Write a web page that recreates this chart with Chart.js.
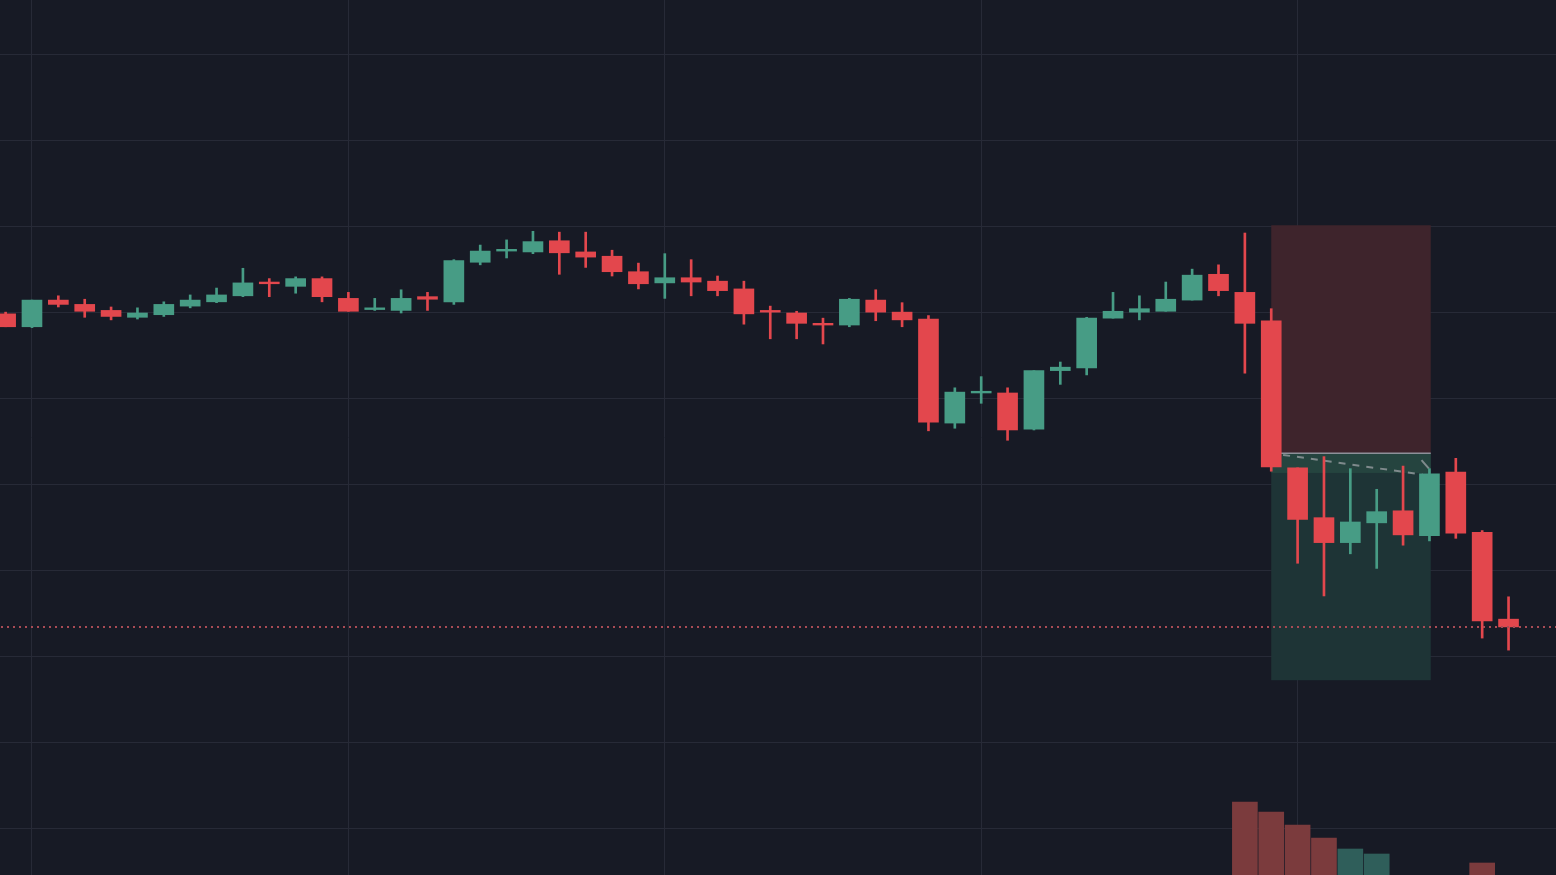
<!DOCTYPE html>
<html>
<head>
<meta charset="utf-8">
<script src="https://cdn.jsdelivr.net/npm/chart.js@4.4.1/dist/chart.umd.min.js"></script>
<style>
  html, body { margin: 0; padding: 0; background: #171a25; overflow: hidden; }
  #wrap { width: 1556px; height: 875px; }
</style>
</head>
<body>
<div id="wrap"><canvas id="chart"></canvas></div>
<script>
// bougies (OHLC)
const opens  = [99.99, 99.84, 100.15, 100.10, 100.03, 99.95, 99.98, 100.08, 100.13, 100.20,
                100.36, 100.31, 100.40, 100.17, 100.04, 100.03, 100.19, 100.13, 100.59, 100.72,
                100.71, 100.84, 100.71, 100.66, 100.48, 100.35, 100.41, 100.37, 100.28, 100.03,
                100.00, 99.88, 99.86, 100.15, 100.01, 99.93, 98.72, 99.07, 99.07, 98.65,
                99.33, 99.36, 99.94, 100.01, 100.02, 100.15, 100.45, 100.24, 99.91, 98.20,
                97.62, 97.33, 97.56, 97.70, 97.41, 98.15, 97.45, 96.44];
const highs  = [100.01, 100.15, 100.20, 100.16, 100.07, 100.06, 100.13, 100.21, 100.29, 100.52,
                100.40, 100.42, 100.42, 100.24, 100.17, 100.27, 100.24, 100.62, 100.79, 100.85,
                100.95, 100.94, 100.94, 100.73, 100.58, 100.69, 100.62, 100.43, 100.37, 100.08,
                100.02, 99.94, 100.17, 100.27, 100.12, 99.97, 99.13, 99.26, 99.13, 99.33,
                99.43, 99.95, 100.24, 100.20, 100.36, 100.51, 100.56, 100.93, 100.05, 98.20,
                98.33, 98.19, 97.95, 98.22, 98.19, 98.31, 97.47, 96.70];
const lows   = [99.84, 99.83, 100.07, 99.95, 99.92, 99.93, 99.96, 100.06, 100.12, 100.19,
                100.19, 100.23, 100.13, 100.02, 100.03, 100.00, 100.03, 100.10, 100.56, 100.64,
                100.69, 100.45, 100.53, 100.43, 100.28, 100.17, 100.20, 100.20, 99.87, 99.70,
                99.70, 99.64, 99.84, 99.91, 99.84, 98.63, 98.66, 98.95, 98.52, 98.64,
                99.17, 99.28, 99.94, 99.92, 100.02, 100.15, 100.20, 99.30, 98.16, 97.09,
                96.71, 97.20, 97.03, 97.30, 97.35, 97.38, 96.22, 96.08];
const closes = [99.84, 100.15, 100.10, 100.02, 99.96, 100.00, 100.10, 100.15, 100.21, 100.35,
                100.34, 100.40, 100.19, 100.02, 100.06, 100.17, 100.16, 100.61, 100.72, 100.74,
                100.83, 100.70, 100.65, 100.48, 100.34, 100.41, 100.36, 100.26, 99.99, 100.01,
                99.88, 99.86, 100.16, 100.01, 99.92, 98.73, 99.08, 99.09, 98.64, 99.33,
                99.37, 99.94, 100.02, 100.05, 100.16, 100.44, 100.26, 99.88, 98.21, 97.60,
                97.33, 97.57, 97.69, 97.42, 98.13, 97.44, 96.42, 96.35];

// volumes (seulement les barres visibles)
const volIndex = [47, 48, 49, 50, 51, 52, 56];
const volumes  = [7300, 6300, 5000, 3700, 2600, 2100, 1200];

// grilles
const timeTicks  = [1, 13, 25, 37, 49];
const priceTicks = [94, 95, 96, 97, 98, 99, 100, 101, 102, 103];

// outil position + dernier prix
const lastPrice  = 96.35;
const posStart   = 48;
const posEnd     = 54.05;
const posStop    = 101.02;
const posEntry   = 98.37;
const posTarget  = 95.73;
const posExit    = 98.14;

const UP = '#479c85', DOWN = '#e3474d';
const VOL_UP = '#2f5e5a', VOL_DOWN = '#7b3b3d';
const candleColor = opens.map((o, i) => closes[i] >= o ? UP : DOWN);

const bodies = opens.map((o, i) => ({ x: i, y: [o, closes[i]] }));
const wicks  = opens.map((o, i) => ({ x: i, y: [lows[i], highs[i]] }));
const vols   = volIndex.map((idx, k) => ({ x: idx, y: volumes[k] }));
const volColors = volIndex.map(idx => closes[idx] >= opens[idx] ? VOL_UP : VOL_DOWN);

// zones de l'outil position, prix dernier, ligne pointillée
const overlay = {
  id: 'overlay',
  beforeDatasetsDraw(chart) {
    const { ctx, scales: { x, y } } = chart;
    const x0 = x.getPixelForValue(posStart), x1 = x.getPixelForValue(posEnd);
    const yStop = y.getPixelForValue(posStop);
    const yEntry = y.getPixelForValue(posEntry);
    const yTarget = y.getPixelForValue(posTarget);
    const yExit = y.getPixelForValue(posExit);
    ctx.save();
    ctx.fillStyle = '#3e242c';
    ctx.fillRect(x0, yStop, x1 - x0, yEntry - yStop);
    ctx.fillStyle = '#1e3436';
    ctx.fillRect(x0, yEntry, x1 - x0, yTarget - yEntry);
    ctx.fillStyle = '#25443f';
    ctx.fillRect(x0, yEntry, x1 - x0, yExit - yEntry);
    ctx.strokeStyle = '#8d9099';
    ctx.lineWidth = 1.5;
    ctx.beginPath();
    ctx.moveTo(x0, yEntry); ctx.lineTo(x1, yEntry);
    ctx.stroke();
    // trajet entrée -> sortie
    ctx.strokeStyle = '#7f8a8c';
    ctx.lineWidth = 2;
    ctx.setLineDash([7, 7]);
    ctx.beginPath();
    ctx.moveTo(x.getPixelForValue(48.45), y.getPixelForValue(posEntry - 0.02));
    ctx.lineTo(x.getPixelForValue(53.75), y.getPixelForValue(posExit - 0.02));
    ctx.stroke();
    ctx.setLineDash([]);
    ctx.beginPath();
    ctx.moveTo(x.getPixelForValue(53.7), y.getPixelForValue(98.29));
    ctx.lineTo(x.getPixelForValue(53.98), y.getPixelForValue(98.19));
    ctx.stroke();
    ctx.restore();
  },
  afterDatasetsDraw(chart) {
    const { ctx, chartArea, scales: { y } } = chart;
    const yp = Math.round(y.getPixelForValue(lastPrice));
    ctx.save();
    ctx.strokeStyle = '#a94b55';
    ctx.lineWidth = 2;
    ctx.setLineDash([2, 4]);
    ctx.beginPath();
    ctx.moveTo(chartArea.left + 1, yp); ctx.lineTo(chartArea.right, yp);
    ctx.stroke();
    ctx.restore();
  }
};

new Chart(document.getElementById('chart'), {
  type: 'bar',
  data: {
    datasets: [
      { data: bodies, backgroundColor: candleColor, barThickness: 20, grouped: false, order: 0, borderWidth: 0 },
      { data: wicks, backgroundColor: candleColor, barThickness: 2, grouped: false, order: 1, borderWidth: 0 },
      { data: vols, yAxisID: 'v', backgroundColor: volColors, barThickness: 25, grouped: false, order: 2, borderWidth: 0 }
    ]
  },
  options: {
    responsive: true,
    maintainAspectRatio: false,
    devicePixelRatio: 1,
    animation: false,
    layout: { padding: 0 },
    plugins: { legend: { display: false }, tooltip: { enabled: false } },
    scales: {
      x: {
        type: 'linear', min: -0.213, max: 58.8, offset: false,
        afterBuildTicks: s => { s.ticks = timeTicks.map(v => ({ value: v })); },
        ticks: { display: false },
        grid: { color: '#272a37', drawTicks: false, offset: false },
        border: { display: false }
      },
      y: {
        type: 'linear', min: 93.4651, max: 103.6395,
        afterBuildTicks: s => { s.ticks = priceTicks.map(v => ({ value: v })); },
        ticks: { display: false },
        grid: { color: '#272a37', drawTicks: false },
        border: { display: false }
      },
      v: {
        type: 'linear', min: 0, max: 87500, display: false
      }
    }
  },
  plugins: [overlay]
});
</script>
</body>
</html>
